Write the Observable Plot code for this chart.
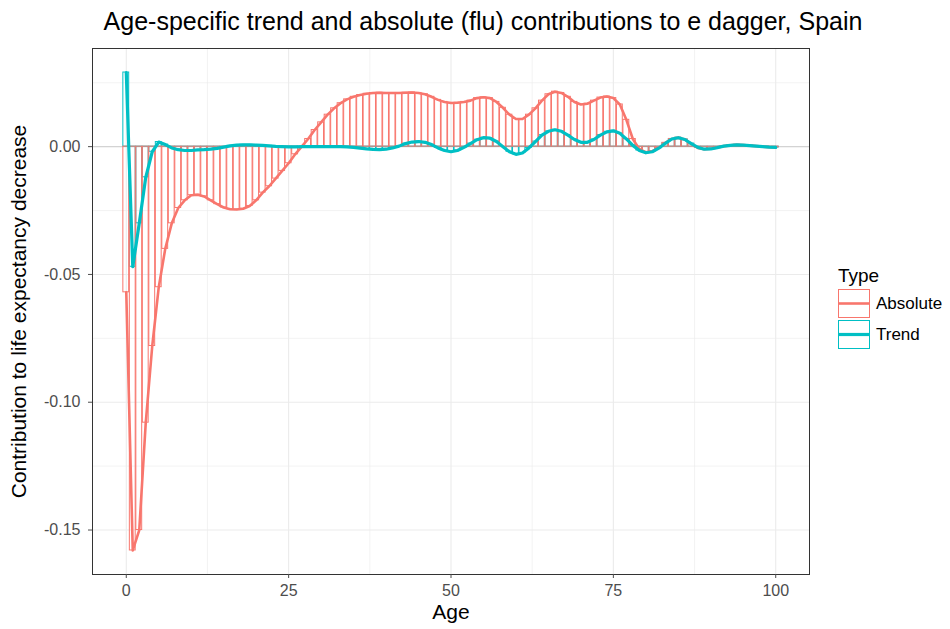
<!DOCTYPE html>
<html>
<head>
<meta charset="utf-8">
<script src="https://cdn.jsdelivr.net/npm/d3@7"></script>
<script src="https://cdn.jsdelivr.net/npm/@observablehq/plot@0.6"></script>
<style>
  html, body { margin: 0; padding: 0; background: #fff; }
  #chart { width: 950px; height: 629px; }
</style>
</head>
<body>
<div id="chart"></div>
<script>
// Single-year ages 0..100
const ages = d3.range(0, 101);

// Absolute (flu) contribution by age
const absoluteValues = [
  -0.057, -0.158, -0.150, -0.108, -0.078, -0.055, -0.040, -0.030, -0.024, -0.021,
  -0.019, -0.0188, -0.0195, -0.021, -0.0225, -0.0238, -0.0245, -0.0246, -0.0243, -0.0232,
  -0.021, -0.018, -0.0155, -0.0125, -0.0095, -0.0065, -0.003, 0.000, 0.003, 0.0065,
  0.0095, 0.0125, 0.015, 0.017, 0.0185, 0.0195, 0.0202, 0.0207, 0.021, 0.0211,
  0.021, 0.021, 0.021, 0.0211, 0.0212, 0.021, 0.0205, 0.0195, 0.0183, 0.0175,
  0.0171, 0.0172, 0.0175, 0.018, 0.019, 0.0193, 0.019, 0.0175, 0.0152, 0.0125,
  0.0108, 0.0108, 0.0125, 0.015, 0.018, 0.0205, 0.0215, 0.021, 0.0195, 0.0175,
  0.0165, 0.0168, 0.018, 0.0192, 0.0196, 0.019, 0.0165, 0.0105, 0.003, -0.001,
  -0.0022, -0.0018, -0.0005, 0.0015, 0.003, 0.0035, 0.0028, 0.001, -0.0005, -0.001,
  -0.0008, -0.0003, 0.0002, 0.0005, 0.0007, 0.0006, 0.0004, 0.0002, 0.0, -0.0002,
  -0.0003
];

// Trend contribution by age
const trendValues = [
  0.029, -0.047, -0.030, -0.012, -0.002, 0.0018, 0.0008, -0.0005, -0.0012, -0.0015,
  -0.0015, -0.0013, -0.0012, -0.001, -0.0007, -0.0002, 0.0003, 0.0006, 0.0007, 0.0007,
  0.0006, 0.0005, 0.0003, 0.0001, 0.0, -0.0001, -0.0001, 0.0, 0.0, 0.0,
  0.0, 0.0, 0.0, 0.0, -0.0001, -0.0003, -0.0006, -0.0009, -0.0011, -0.0012,
  -0.001, -0.0005, 0.0002, 0.0012, 0.0018, 0.002, 0.0017, 0.0008, -0.0005, -0.0015,
  -0.002, -0.0015, -0.0003, 0.0012, 0.0027, 0.0035, 0.0033, 0.002, 0.0, -0.002,
  -0.003, -0.0025, -0.0005, 0.002, 0.0045, 0.006, 0.0066, 0.006, 0.0045, 0.0028,
  0.0017, 0.0017, 0.0028, 0.0045, 0.0058, 0.0062, 0.0052, 0.003, 0.0005, -0.0015,
  -0.0024, -0.002, -0.0006, 0.0013, 0.003, 0.0035, 0.0028, 0.0012, -0.0003, -0.001,
  -0.0009, -0.0004, 0.0002, 0.0005, 0.0007, 0.0006, 0.0004, 0.0002, 0.0, -0.0002,
  -0.0003
];

const seriesNames = ["Absolute", "Trend"];
const seriesColors = ["#F8766D", "#00BFC4"];

const xTicks = [0, 25, 50, 75, 100];
const xMinor = [12.5, 37.5, 62.5, 87.5];
const yTicks = [0, -0.05, -0.10, -0.15];
const yMinor = [0.025, -0.025, -0.075, -0.125];

const titleText = "Age-specific trend and absolute (flu) contributions to e dagger, Spain";
const xTitle = "Age";
const yTitle = "Contribution to life expectancy decrease";
const legendTitle = "Type";

const absRows = ages.map((a, i) => ({age: a, value: absoluteValues[i], type: "Absolute"}));
const trendRows = ages.map((a, i) => ({age: a, value: trendValues[i], type: "Trend"}));

const W = 950, H = 629;
const mL = 92, mR = 141, mT = 48, mB = 55;
const FONT = "'Liberation Sans', Arial, sans-serif";

// Outlined bars (width 0.9) from zero to each age's value
const bars = (rows, color) => Plot.rectY(rows, {
  x1: d => d.age - 0.45, x2: d => d.age + 0.45, y: "value",
  fill: "none", stroke: color, strokeWidth: 1
});

const chart = Plot.plot({
  width: W, height: H,
  marginLeft: mL, marginRight: mR, marginTop: mT, marginBottom: mB,
  style: {fontFamily: FONT, background: "#fff"},
  x: {domain: [-5.2, 105.2]},
  y: {domain: [-0.1674, 0.0384]},
  marks: [
    Plot.gridX(xMinor, {stroke: "#EBEBEB", strokeOpacity: 1, strokeWidth: 0.6}),
    Plot.gridY(yMinor, {stroke: "#EBEBEB", strokeOpacity: 1, strokeWidth: 0.6}),
    Plot.gridX(xTicks, {stroke: "#EBEBEB", strokeOpacity: 1, strokeWidth: 1.1}),
    Plot.gridY(yTicks, {stroke: "#EBEBEB", strokeOpacity: 1, strokeWidth: 1.1}),
    Plot.ruleY([0], {stroke: "#c8c8c8", strokeWidth: 0.8}),
    bars(trendRows, seriesColors[1]),
    bars(absRows, seriesColors[0]),
    Plot.line(absRows, {x: "age", y: "value", stroke: seriesColors[0], strokeWidth: 2.6}),
    Plot.line(trendRows, {x: "age", y: "value", stroke: seriesColors[1], strokeWidth: 3.2}),
    Plot.frame({stroke: "#333", strokeWidth: 1}),
    Plot.axisX(xTicks, {tickSize: 4, tickPadding: 6, fontSize: 16, color: "#4D4D4D", label: null}),
    Plot.axisY(yTicks, {tickSize: 4, tickPadding: 8, fontSize: 16, color: "#4D4D4D", label: null,
      tickFormat: d => d.toFixed(2)}),
    Plot.text([xTitle], {frameAnchor: "bottom", lineAnchor: "middle", dy: 38, fontSize: 21, fill: "#000"}),
    Plot.text([yTitle], {frameAnchor: "left", textAnchor: "middle", lineAnchor: "middle",
      dx: -73, rotate: -90, fontSize: 21, fill: "#000"}),
    Plot.text([titleText], {frameAnchor: "top", lineAnchor: "middle", dx: 32, dy: -27, fontSize: 25, fill: "#000"})
  ]
});

// Legend: key boxes with a line through them, drawn into the same SVG
const svg = d3.select(chart);
const lg = svg.append("g").attr("font-family", FONT).attr("text-anchor", "start");
const lx = 838, ly = 289, kw = 32, kh = 29;
lg.append("text").attr("x", lx).attr("y", 282).attr("font-size", 19).attr("fill", "#000").text(legendTitle);
seriesNames.forEach((name, i) => {
  const y0 = ly + i * (kh + 2);
  lg.append("rect").attr("x", lx + 0.5).attr("y", y0 + 0.5).attr("width", kw - 1).attr("height", kh - 1)
    .attr("fill", "#fff").attr("stroke", seriesColors[i]).attr("stroke-width", 1);
  lg.append("line").attr("x1", lx + 1).attr("x2", lx + kw - 1).attr("y1", y0 + kh / 2).attr("y2", y0 + kh / 2)
    .attr("stroke", seriesColors[i]).attr("stroke-width", i === 0 ? 2.6 : 3.2);
  lg.append("text").attr("x", lx + kw + 6).attr("y", y0 + kh / 2).attr("dy", "0.35em")
    .attr("font-size", 17).attr("fill", "#000").text(name);
});

document.getElementById("chart").appendChild(chart);
</script>
</body>
</html>
